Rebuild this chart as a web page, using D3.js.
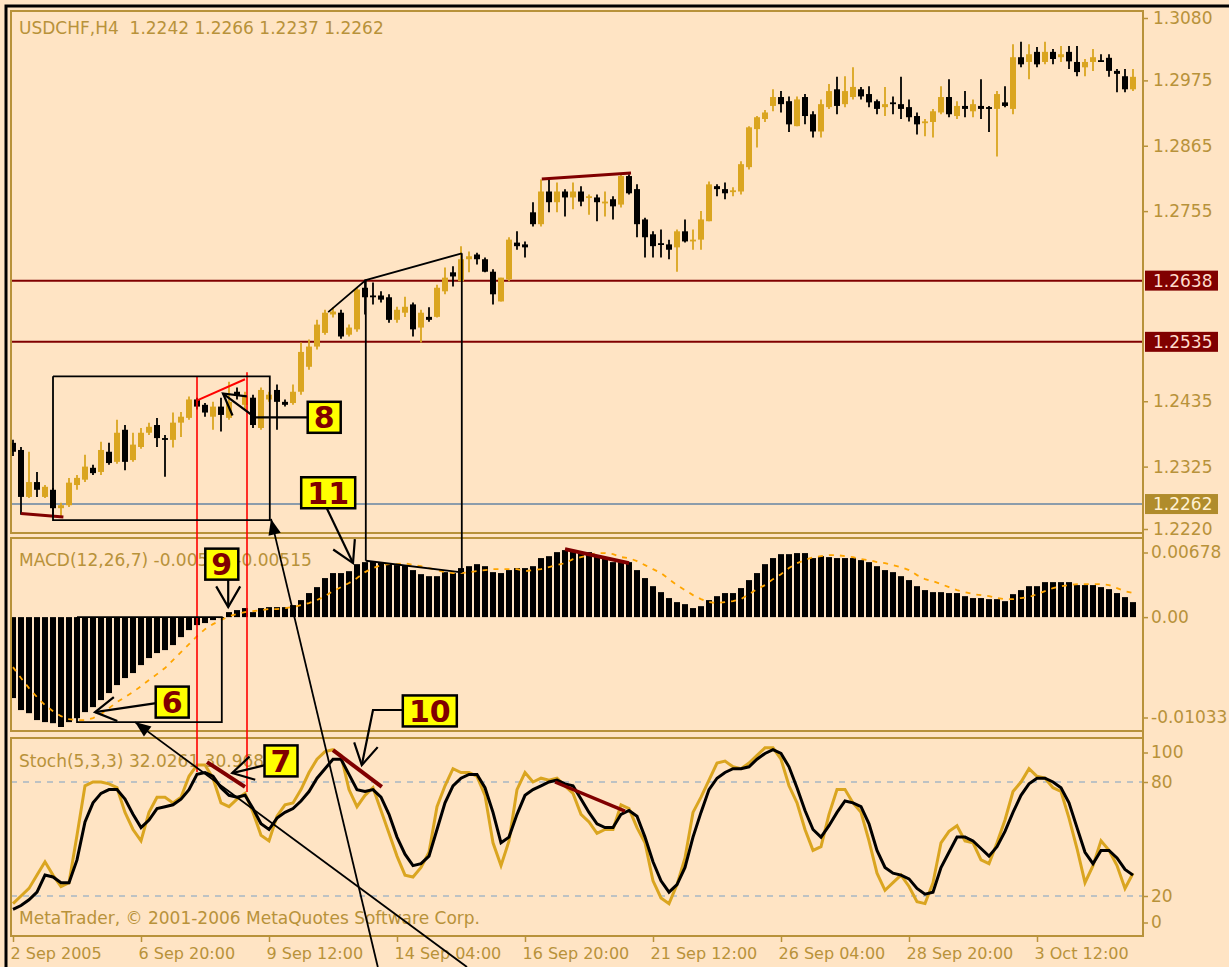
<!DOCTYPE html>
<html>
<head>
<meta charset="utf-8">
<title>USDCHF,H4</title>
<script src="https://d3js.org/d3.v7.min.js"></script>
<style>
  body { margin: 0; background: #ffe4c4; }
  svg { display: block; font-family: "DejaVu Sans", Verdana, sans-serif; }
  text { white-space: pre; }
</style>
</head>
<body>
<script>
// ---- data (141 H4 bars) ----
var opens = [1.2365,1.2353,1.2274,1.2299,1.2274,1.2286,1.2255,1.2260,1.2294,1.2303,
  1.2323,1.2316,1.2350,1.2333,1.2387,1.2336,1.2358,1.2382,1.2395,1.2373,
  1.2370,1.2399,1.2407,1.2438,1.2429,1.2409,1.2426,1.2407,1.2451,1.2429,
  1.2441,1.2390,1.2438,1.2454,1.2434,1.2432,1.2451,1.2493,1.2527,1.2550,
  1.2581,1.2584,1.2547,1.2556,1.2626,1.2613,1.2613,1.2610,1.2572,1.2584,
  1.2598,1.2559,1.2577,1.2577,1.2620,1.2652,1.2637,1.2674,1.2682,1.2674,
  1.2653,1.2603,1.2640,1.2702,1.2699,1.2753,1.2733,1.2788,1.2770,1.2788,
  1.2778,1.2788,1.2778,1.2778,1.2770,1.2775,1.2766,1.2814,1.2792,1.2741,
  1.2716,1.2701,1.2699,1.2694,1.2721,1.2706,1.2707,1.2738,1.2797,1.2792,
  1.2788,1.2788,1.2829,1.2893,1.2910,1.2932,1.2947,1.2940,1.2898,1.2947,
  1.2918,1.2889,1.2930,1.2960,1.2935,1.2947,1.2960,1.2952,1.2940,1.2930,
  1.2938,1.2935,1.2930,1.2915,1.2903,1.2905,1.2921,1.2947,1.2915,1.2932,
  1.2923,1.2932,1.2930,1.2927,1.2938,1.2927,1.3014,1.3006,1.3023,1.3006,
  1.3023,1.3014,1.3023,1.3006,1.2997,1.3006,1.3009,1.3013,1.2991,1.2982,
  1.2960];
var highs = [1.2370,1.2358,1.2350,1.2316,1.2294,1.2289,1.2264,1.2306,1.2311,1.2345,
  1.2328,1.2367,1.2365,1.2404,1.2395,1.2382,1.2390,1.2399,1.2407,1.2378,
  1.2416,1.2417,1.2443,1.2441,1.2432,1.2434,1.2441,1.2468,1.2458,1.2451,
  1.2446,1.2458,1.2451,1.2463,1.2438,1.2463,1.2534,1.2539,1.2572,1.2589,
  1.2593,1.2589,1.2564,1.2626,1.2640,1.2635,1.2620,1.2615,1.2594,1.2611,
  1.2601,1.2589,1.2593,1.2631,1.2660,1.2662,1.2696,1.2687,1.2685,1.2677,
  1.2657,1.2643,1.2711,1.2721,1.2704,1.2770,1.2808,1.2808,1.2803,1.2792,
  1.2803,1.2797,1.2783,1.2783,1.2788,1.2780,1.2817,1.2817,1.2800,1.2744,
  1.2721,1.2724,1.2707,1.2724,1.2741,1.2724,1.2755,1.2805,1.2800,1.2803,
  1.2795,1.2839,1.2898,1.2915,1.2925,1.2960,1.2957,1.2948,1.2948,1.2952,
  1.2923,1.2943,1.2969,1.2981,1.2982,1.2997,1.2964,1.2965,1.2943,1.2964,
  1.2948,1.2981,1.2943,1.2921,1.2910,1.2927,1.2965,1.2977,1.2940,1.2957,
  1.2943,1.2977,1.2932,1.2957,1.2965,1.3036,1.3040,1.3036,1.3031,1.3040,
  1.3028,1.3033,1.3033,1.3033,1.3011,1.3028,1.3019,1.3019,1.2994,1.2994,
  1.2994];
var lows = [1.2343,1.2244,1.2272,1.2274,1.2272,1.2244,1.2242,1.2257,1.2286,1.2299,
  1.2311,1.2311,1.2328,1.2330,1.2319,1.2333,1.2355,1.2378,1.2358,1.2308,
  1.2357,1.2375,1.2404,1.2421,1.2409,1.2387,1.2384,1.2404,1.2438,1.2421,
  1.2390,1.2387,1.2434,1.2387,1.2426,1.2429,1.2446,1.2488,1.2522,1.2547,
  1.2576,1.2540,1.2544,1.2552,1.2581,1.2598,1.2601,1.2567,1.2567,1.2577,
  1.2544,1.2534,1.2569,1.2576,1.2615,1.2628,1.2637,1.2652,1.2665,1.2652,
  1.2598,1.2603,1.2637,1.2690,1.2677,1.2729,1.2729,1.2753,1.2753,1.2746,
  1.2758,1.2763,1.2749,1.2738,1.2746,1.2741,1.2761,1.2783,1.2711,1.2677,
  1.2677,1.2677,1.2674,1.2653,1.2702,1.2690,1.2690,1.2738,1.2780,1.2775,
  1.2780,1.2783,1.2825,1.2862,1.2905,1.2923,1.2921,1.2888,1.2898,1.2901,
  1.2879,1.2879,1.2927,1.2918,1.2930,1.2943,1.2943,1.2930,1.2918,1.2915,
  1.2918,1.2910,1.2906,1.2884,1.2881,1.2879,1.2918,1.2913,1.2910,1.2913,
  1.2913,1.2910,1.2888,1.2847,1.2930,1.2918,1.2997,1.2977,1.2997,1.3002,
  1.3002,1.3006,1.2994,1.2982,1.2982,1.2991,1.3006,1.2981,1.2955,1.2955,
  1.2957];
var closes = [1.2350,1.2274,1.2299,1.2286,1.2291,1.2255,1.2260,1.2298,1.2306,1.2325,
  1.2314,1.2353,1.2331,1.2382,1.2333,1.2362,1.2382,1.2392,1.2373,1.2372,
  1.2399,1.2409,1.2438,1.2426,1.2416,1.2426,1.2412,1.2434,1.2444,1.2444,
  1.2395,1.2454,1.2446,1.2434,1.2429,1.2451,1.2518,1.2527,1.2564,1.2584,
  1.2586,1.2544,1.2559,1.2623,1.2610,1.2611,1.2606,1.2572,1.2589,1.2594,
  1.2556,1.2584,1.2572,1.2626,1.2643,1.2645,1.2674,1.2679,1.2674,1.2653,
  1.2615,1.2643,1.2707,1.2696,1.2694,1.2733,1.2788,1.2770,1.2788,1.2778,
  1.2788,1.2771,1.2780,1.2770,1.2771,1.2763,1.2814,1.2785,1.2733,1.2711,
  1.2696,1.2699,1.2690,1.2721,1.2704,1.2707,1.2741,1.2800,1.2792,1.2785,
  1.2790,1.2834,1.2896,1.2913,1.2921,1.2947,1.2935,1.2901,1.2943,1.2915,
  1.2889,1.2935,1.2957,1.2932,1.2957,1.2964,1.2948,1.2938,1.2927,1.2935,
  1.2937,1.2927,1.2913,1.2901,1.2906,1.2923,1.2947,1.2918,1.2932,1.2927,
  1.2935,1.2927,1.2928,1.2952,1.2932,1.3014,1.3002,1.3019,1.3002,1.3023,
  1.3011,1.3019,1.3007,1.2989,1.3006,1.3014,1.3007,1.2991,1.2986,1.2960,
  1.2981];

var macdMain = [-0.00761,-0.00874,-0.00903,-0.00968,-0.00987,-0.00997,-0.01033,-0.00987,-0.00950,-0.00893,
  -0.00846,-0.00780,-0.00714,-0.00639,-0.00573,-0.00526,-0.00451,-0.00385,-0.00338,-0.00310,
  -0.00263,-0.00188,-0.00122,-0.00075,-0.00056,-0.00028,-0.00009,0.00047,0.00066,0.00085,
  0.00047,0.00085,0.00094,0.00094,0.00094,0.00113,0.00160,0.00226,0.00282,0.00367,
  0.00414,0.00414,0.00432,0.00498,0.00517,0.00526,0.00517,0.00508,0.00489,0.00489,
  0.00442,0.00404,0.00385,0.00385,0.00423,0.00414,0.00461,0.00479,0.00498,0.00479,
  0.00423,0.00414,0.00442,0.00461,0.00461,0.00479,0.00555,0.00573,0.00611,0.00630,
  0.00620,0.00611,0.00611,0.00583,0.00564,0.00517,0.00517,0.00517,0.00442,0.00367,
  0.00291,0.00235,0.00179,0.00141,0.00122,0.00085,0.00103,0.00160,0.00197,0.00226,
  0.00226,0.00273,0.00348,0.00414,0.00498,0.00555,0.00592,0.00592,0.00602,0.00602,
  0.00555,0.00573,0.00564,0.00555,0.00555,0.00555,0.00536,0.00517,0.00479,0.00442,
  0.00423,0.00385,0.00348,0.00291,0.00254,0.00235,0.00235,0.00226,0.00226,0.00197,
  0.00179,0.00179,0.00169,0.00169,0.00150,0.00216,0.00254,0.00291,0.00291,0.00329,
  0.00329,0.00329,0.00329,0.00301,0.00301,0.00301,0.00282,0.00263,0.00226,0.00188,
  0.00141];
var macdSignal = [-0.00470,-0.00573,-0.00667,-0.00752,-0.00827,-0.00884,-0.00931,-0.00959,-0.00968,-0.00968,
  -0.00950,-0.00912,-0.00856,-0.00799,-0.00752,-0.00705,-0.00649,-0.00592,-0.00536,-0.00479,
  -0.00404,-0.00329,-0.00254,-0.00179,-0.00113,-0.00066,-0.00028,0.00009,0.00028,0.00047,
  0.00056,0.00066,0.00075,0.00075,0.00085,0.00094,0.00113,0.00132,0.00160,0.00197,
  0.00244,0.00282,0.00320,0.00367,0.00423,0.00461,0.00489,0.00498,0.00498,0.00508,
  0.00489,0.00479,0.00461,0.00442,0.00423,0.00414,0.00414,0.00423,0.00432,0.00442,
  0.00451,0.00451,0.00451,0.00451,0.00432,0.00442,0.00451,0.00470,0.00489,0.00508,
  0.00545,0.00564,0.00583,0.00602,0.00602,0.00592,0.00564,0.00555,0.00526,0.00489,
  0.00451,0.00414,0.00357,0.00301,0.00254,0.00207,0.00169,0.00141,0.00132,0.00141,
  0.00150,0.00169,0.00216,0.00263,0.00301,0.00357,0.00404,0.00461,0.00508,0.00536,
  0.00564,0.00573,0.00583,0.00583,0.00573,0.00564,0.00545,0.00536,0.00517,0.00508,
  0.00489,0.00470,0.00442,0.00395,0.00357,0.00338,0.00310,0.00282,0.00254,0.00235,
  0.00216,0.00207,0.00197,0.00179,0.00169,0.00169,0.00179,0.00188,0.00216,0.00244,
  0.00273,0.00291,0.00301,0.00310,0.00310,0.00310,0.00310,0.00301,0.00273,0.00244,
  0.00226];

var stochK = [16,20,24,31,38,31,25,27,52,78, 80,80,79,77,64,55,49,64,72,72,
  69,72,83,89,89,82,69,67,71,74, 64,52,49,62,68,69,76,85,92,96,
  97,94,76,67,73,77,65,53,41,31, 30,35,43,67,78,87,85,85,83,73,
  48,36,49,76,85,80,82,81,82,78, 74,63,59,53,55,55,68,66,56,48,
  28,19,16,26,40,64,72,81,90,91, 88,87,90,94,98,98,92,78,69,55,
  44,46,63,76,76,69,64,49,32,23, 27,31,25,17,16,27,48,54,57,49,
  48,39,37,48,60,75,80,87,83,82, 77,75,61,45,27,36,49,44,36,24, 32];
var stochD = [13,15,18,22,31,30,27,27,39,59, 69,74,76,76,71,63,56,60,66,67,
  68,71,76,84,85,83,77,73,72,73, 66,58,55,61,64,66,70,75,82,87,
  92,92,84,76,75,76,72,63,51,42, 36,37,41,55,69,78,82,84,84,77,
  64,48,51,63,73,76,78,80,81,79, 78,71,64,58,56,56,63,65,62,51,
  38,28,22,26,35,51,64,76,82,85, 87,87,88,92,95,97,95,88,77,65,
  55,51,57,64,70,69,67,58,44,35, 32,31,29,24,21,22,35,43,51,51,
  49,45,41,46,54,64,73,79,82,82, 80,77,69,56,43,37,44,44,40,34, 31];

var timeTicks = [0, 16, 32, 48, 64, 80, 96, 112, 128];
var timeLabels = ["2 Sep 2005", "6 Sep 20:00", "9 Sep 12:00", "14 Sep 04:00", "16 Sep 20:00",
  "21 Sep 12:00", "26 Sep 04:00", "28 Sep 20:00", "3 Oct 12:00"];
var priceTicks = [1.3080, 1.2975, 1.2865, 1.2755, 1.2435, 1.2325, 1.2220];
var priceLevels = [1.2638, 1.2535];
var bidPrice = 1.2262;
var macdTicks = [0.00678, 0, -0.01033];
var stochTicks = [100, 80, 20, 0];
var stochLevels = [80, 20];

// ---- layout / colours ----
var W = 1229, H = 967;
var left = 11, right = 1143;
var panels = {
  main:  {top: 11,  bottom: 533},
  macd:  {top: 538, bottom: 731},
  stoch: {top: 738, bottom: 936}
};
var bg = "#ffe4c4", fg = "#b8923a", upCol = "#daa520", maroon = "#800000";
var fs = 17;

var svg = d3.select("body").append("svg").attr("width", W).attr("height", H);
svg.append("rect").attr("width", W).attr("height", H).attr("fill", bg);

var x = d3.scaleLinear().domain([0, 140]).range([13, 1133]);
var yPrice = d3.scaleLinear().domain([1.2220, 1.3080]).range([529, 18]);
var yMacd = d3.scaleLinear().domain([-0.01033, 0.00678]).range([727, 545]);
var yStoch = d3.scaleLinear().domain([0, 100]).range([934, 744]);
var ys = {main: yPrice, macd: yMacd, stoch: yStoch};

// clip paths for each sub window
var defs = svg.append("defs");
Object.keys(panels).forEach(function(k) {
  defs.append("clipPath").attr("id", "clip-" + k).append("rect")
    .attr("x", left).attr("y", panels[k].top)
    .attr("width", right - left).attr("height", panels[k].bottom - panels[k].top);
});

// ---- candles ----
var candles = d3.range(opens.length).map(function(i) {
  return {i: i, o: opens[i], h: highs[i], l: lows[i], c: closes[i]};
});
var gMain = svg.append("g").attr("clip-path", "url(#clip-main)");

// horizontal level lines
gMain.selectAll("line.level").data(priceLevels).join("line")
  .attr("x1", left).attr("x2", right)
  .attr("y1", d => yPrice(d)).attr("y2", d => yPrice(d))
  .attr("stroke", maroon).attr("stroke-width", 2);
gMain.append("line")
  .attr("x1", left).attr("x2", right)
  .attr("y1", yPrice(bidPrice)).attr("y2", yPrice(bidPrice))
  .attr("stroke", "#8c9cab").attr("stroke-width", 2);

gMain.selectAll("line.wick").data(candles).join("line")
  .attr("x1", d => x(d.i)).attr("x2", d => x(d.i))
  .attr("y1", d => yPrice(d.h)).attr("y2", d => yPrice(d.l))
  .attr("stroke", d => d.c >= d.o ? upCol : "#000")
  .attr("stroke-width", 1.8);
gMain.selectAll("rect.body").data(candles).join("rect")
  .attr("x", d => x(d.i) - 3).attr("width", 6)
  .attr("y", d => yPrice(Math.max(d.o, d.c)))
  .attr("height", d => Math.max(1.8, Math.abs(yPrice(d.o) - yPrice(d.c))))
  .attr("fill", d => d.c >= d.o ? upCol : "#000");

// ---- MACD ----
var gMacd = svg.append("g").attr("clip-path", "url(#clip-macd)");
gMacd.selectAll("rect").data(macdMain).join("rect")
  .attr("x", (d, i) => x(i) - 3).attr("width", 6)
  .attr("y", d => Math.min(yMacd(d), yMacd(0)))
  .attr("height", d => Math.abs(yMacd(d) - yMacd(0)))
  .attr("fill", "#000");
gMacd.append("path").datum(macdSignal)
  .attr("d", d3.line().x((d, i) => x(i)).y(d => yMacd(d)))
  .attr("fill", "none").attr("stroke", "#ffa500")
  .attr("stroke-width", 1.8).attr("stroke-dasharray", "5,6");

// ---- Stochastic ----
var gSto = svg.append("g").attr("clip-path", "url(#clip-stoch)");
gSto.selectAll("line").data(stochLevels).join("line")
  .attr("x1", left).attr("x2", right)
  .attr("y1", d => yStoch(d)).attr("y2", d => yStoch(d))
  .attr("stroke", "#a8b6c4").attr("stroke-width", 1.3)
  .attr("stroke-dasharray", "6,6");
var stLine = d3.line().x((d, i) => x(i)).y(d => yStoch(d));
gSto.append("path").datum(stochK).attr("d", stLine)
  .attr("fill", "none").attr("stroke", upCol).attr("stroke-width", 3);
gSto.append("path").datum(stochD).attr("d", stLine)
  .attr("fill", "none").attr("stroke", "#000").attr("stroke-width", 3);

// ---- panel frames ----
Object.keys(panels).forEach(function(k) {
  svg.append("rect").attr("x", left).attr("y", panels[k].top)
    .attr("width", right - left).attr("height", panels[k].bottom - panels[k].top)
    .attr("fill", "none").attr("stroke", fg).attr("stroke-width", 2);
});
// window frame
svg.append("path").attr("d", "M6," + H + "V6H" + W)
  .attr("fill", "none").attr("stroke", "#000").attr("stroke-width", 3);

// ---- axes ----
function styleAxis(g, size) {
  g.select(".domain").remove();
  g.selectAll("line").attr("stroke", fg).attr("stroke-width", 1.5);
  g.selectAll("text").attr("fill", fg).attr("font-size", size)
    .attr("font-family", "DejaVu Sans, sans-serif");
}
function clampTicks(g, p) {
  g.selectAll(".tick").attr("transform", function(d) {
    var y = this.getAttribute("transform").match(/,([-\d.]+)\)/)[1] * 1;
    y = Math.max(panels[p].top + 15, Math.min(panels[p].bottom - 13, y));
    return "translate(0," + y + ")";
  });
}

var gPA = svg.append("g").attr("transform", "translate(" + right + ",0)")
  .call(d3.axisRight(yPrice).tickValues(priceTicks).tickSize(5).tickSizeOuter(0)
    .tickFormat(d => d.toFixed(4)));
styleAxis(gPA, fs);
gPA.selectAll("text").attr("x", 10);

var gMA = svg.append("g").attr("transform", "translate(" + right + ",0)")
  .call(d3.axisRight(yMacd).tickValues(macdTicks).tickSize(5).tickSizeOuter(0)
    .tickFormat(d => d === 0 ? "0.00" : d.toFixed(5)));
styleAxis(gMA, fs);
gMA.selectAll("text").attr("x", 8);
clampTicks(gMA, "macd");

var gSA = svg.append("g").attr("transform", "translate(" + right + ",0)")
  .call(d3.axisRight(yStoch).tickValues(stochTicks).tickSize(5).tickSizeOuter(0)
    .tickFormat(d => String(d)));
styleAxis(gSA, fs);
gSA.selectAll("text").attr("x", 8);
clampTicks(gSA, "stoch");

svg.append("line").attr("x1", right).attr("x2", right)
  .attr("y1", panels.main.top).attr("y2", panels.stoch.bottom)
  .attr("stroke", fg).attr("stroke-width", 2);

// price labels in boxes on the scale
var tags = priceLevels.map(p => ({v: p, fill: maroon, col: "#ffdccc"}))
  .concat([{v: bidPrice, fill: "#b08c2c", col: "#fff0d0"}]);
var gTag = svg.append("g").selectAll("g").data(tags).join("g")
  .attr("transform", d => "translate(" + (right + 2) + "," + yPrice(d.v) + ")");
gTag.append("rect").attr("x", 0).attr("y", -10).attr("width", 73).attr("height", 20)
  .attr("fill", d => d.fill);
gTag.append("text").attr("x", 8).attr("dy", "0.36em")
  .attr("font-size", fs).attr("fill", d => d.col)
  .text(d => d.v.toFixed(4));

var gXA = svg.append("g").attr("transform", "translate(0," + panels.stoch.bottom + ")")
  .call(d3.axisBottom(x).tickValues(timeTicks).tickSize(6).tickSizeOuter(0)
    .tickFormat((d, i) => timeLabels[i]));
styleAxis(gXA, 16);
gXA.selectAll("text").attr("text-anchor", "start").attr("x", -3).attr("y", 12);

// ---- window titles ----
var titles = [
  {t: "USDCHF,H4  1.2242 1.2266 1.2237 1.2262", y: 34},
  {t: "MACD(12,26,7) -0.00564 -0.00515", y: 566},
  {t: "Stoch(5,3,3) 32.0261 30.9682", y: 767},
  {t: "MetaTrader, \u00a9 2001-2006 MetaQuotes Software Corp.", y: 924}
];
svg.append("g").selectAll("text").data(titles).join("text")
  .attr("x", 19).attr("y", d => d.y)
  .attr("font-size", fs).attr("fill", fg).text(d => d.t);

// ---- drawn objects (in bar index / value coordinates) ----
function pt(a) { return [x(a[1]), ys[a[0]](a[2])]; }
var polyline = d3.line();

var objects = [
  // red verticals and red trend segment
  {c: "#ff0000", w: 1.6, pts: [["main", 23, 1.2477], ["stoch", 23, 85.3]]},
  {c: "#ff0000", w: 1.6, pts: [["main", 29.25, 1.2484], ["stoch", 29.25, 74.7]]},
  {c: "#ff0000", w: 2, pts: [["main", 23.1, 1.2437], ["main", 29, 1.2472]]},
  // maroon divergence segments
  {c: maroon, w: 3, pts: [["main", 1, 1.2246], ["main", 6.3, 1.2240]]},
  {c: maroon, w: 3, pts: [["main", 66.1, 1.2809], ["main", 77.25, 1.2819]]},
  {c: maroon, w: 4, pts: [["macd", 69, 0.00639], ["macd", 77, 0.00508]]},
  {c: maroon, w: 4, pts: [["stoch", 24.25, 90.5], ["stoch", 29, 77.4]]},
  {c: maroon, w: 4, pts: [["stoch", 40, 96.8], ["stoch", 46.1, 77.4]]},
  {c: maroon, w: 3.5, pts: [["stoch", 67.75, 80], ["stoch", 76.5, 64.7]]},
  // black trend lines and boxes
  {c: "#000", w: 1.8, pts: [["main", 39.4, 1.2585], ["main", 44.1, 1.2639], ["main", 56.1, 1.2684]]},
  {c: "#000", w: 1.8, pts: [["main", 44.1, 1.2639], ["macd", 44.1, 0.0053]]},
  {c: "#000", w: 1.8, pts: [["main", 56.1, 1.2684], ["macd", 56.1, 0.0042]]},
  {c: "#000", w: 1.8, pts: [["macd", 44.1, 0.0053], ["macd", 56.1, 0.0042]]},
  {c: "#000", w: 1.8, pts: [["main", 5, 1.2477], ["main", 32.1, 1.2477], ["main", 32.1, 1.2235],
    ["main", 5, 1.2235], ["main", 5, 1.2477]]},
  {c: "#000", w: 1.8, pts: [["macd", 8, 0], ["macd", 26.1, 0], ["macd", 26.1, -0.00987],
    ["macd", 8, -0.00987], ["macd", 8, 0]]},
  // long pointers with solid heads
  {c: "#000", w: 1.8, head: "solid", pts: [["stoch", 56.75, -17.4], ["macd", 15.25, -0.00987]]},
  {c: "#000", w: 1.8, head: "solid", pts: [["stoch", 45.6, -17.4], ["main", 32.25, 1.2237]]},
  // callout arrows
  {c: "#000", w: 2.2, head: "open", pts: [["main", 36.75, 1.2408], ["main", 30.25, 1.2408], ["main", 26.25, 1.2448]]},
  {c: "#000", w: 2.2, head: "open", pts: [["main", 39.25, 1.2254], ["macd", 42.5, 0.00508]]},
  {c: "#000", w: 2.2, head: "open", pts: [["macd", 26.9, 0.00357], ["macd", 26.9, 0.00094]]},
  {c: "#000", w: 2.2, head: "open", pts: [["macd", 17.9, -0.00809], ["macd", 10.25, -0.00893]]},
  {c: "#000", w: 2.2, head: "open", pts: [["stoch", 48.75, 117.9], ["stoch", 45, 117.9], ["stoch", 43.6, 88.9]]},
  {c: "#000", w: 2.2, head: "open", pts: [["stoch", 31.5, 88.9], ["stoch", 27.4, 84.7]]}
];

var gObj = svg.append("g");
objects.forEach(function(o) {
  var p = o.pts.map(pt);
  gObj.append("path").attr("d", polyline(p))
    .attr("fill", "none").attr("stroke", o.c).attr("stroke-width", o.w);
  if (!o.head) return;
  var tip = p[p.length - 1], from = p[p.length - 2];
  var a = Math.atan2(from[1] - tip[1], from[0] - tip[0]);
  if (o.head === "open") {
    var L = 24, s = Math.PI / 6;
    gObj.append("path")
      .attr("d", polyline([[tip[0] + L * Math.cos(a + s), tip[1] + L * Math.sin(a + s)], tip,
        [tip[0] + L * Math.cos(a - s), tip[1] + L * Math.sin(a - s)]]))
      .attr("fill", "none").attr("stroke", o.c).attr("stroke-width", o.w);
  } else {
    var L2 = 17, s2 = 0.38;
    gObj.append("path")
      .attr("d", polyline([tip, [tip[0] + L2 * Math.cos(a + s2), tip[1] + L2 * Math.sin(a + s2)],
        [tip[0] + L2 * Math.cos(a - s2), tip[1] + L2 * Math.sin(a - s2)]]) + "Z")
      .attr("fill", o.c);
  }
});

// numbered callouts (they sit on top of the window titles, as in the original)
var callouts = [
  {t: "8", at: ["main", 38.9, 1.2408]},
  {t: "11", at: ["main", 39.4, 1.2281]},
  {t: "9", at: ["macd", 26.1, 0.00498]},
  {t: "6", at: ["macd", 19.9, -0.00799]},
  {t: "10", at: ["stoch", 52.1, 117.4]},
  {t: "7", at: ["stoch", 33.5, 91.1]}
];
var gCall = svg.append("g").selectAll("g").data(callouts).join("g")
  .attr("transform", d => "translate(" + pt(d.at) + ")");
gCall.append("rect")
  .attr("x", d => d.t.length > 1 ? -27 : -16.5).attr("y", -15.5)
  .attr("width", d => d.t.length > 1 ? 54 : 33).attr("height", 31)
  .attr("fill", "#ffff00").attr("stroke", "#000").attr("stroke-width", 2.5);
gCall.append("text").attr("text-anchor", "middle").attr("dy", "0.36em")
  .attr("font-size", 30).attr("font-weight", "bold").attr("fill", maroon)
  .text(d => d.t);
</script>
</body>
</html>
